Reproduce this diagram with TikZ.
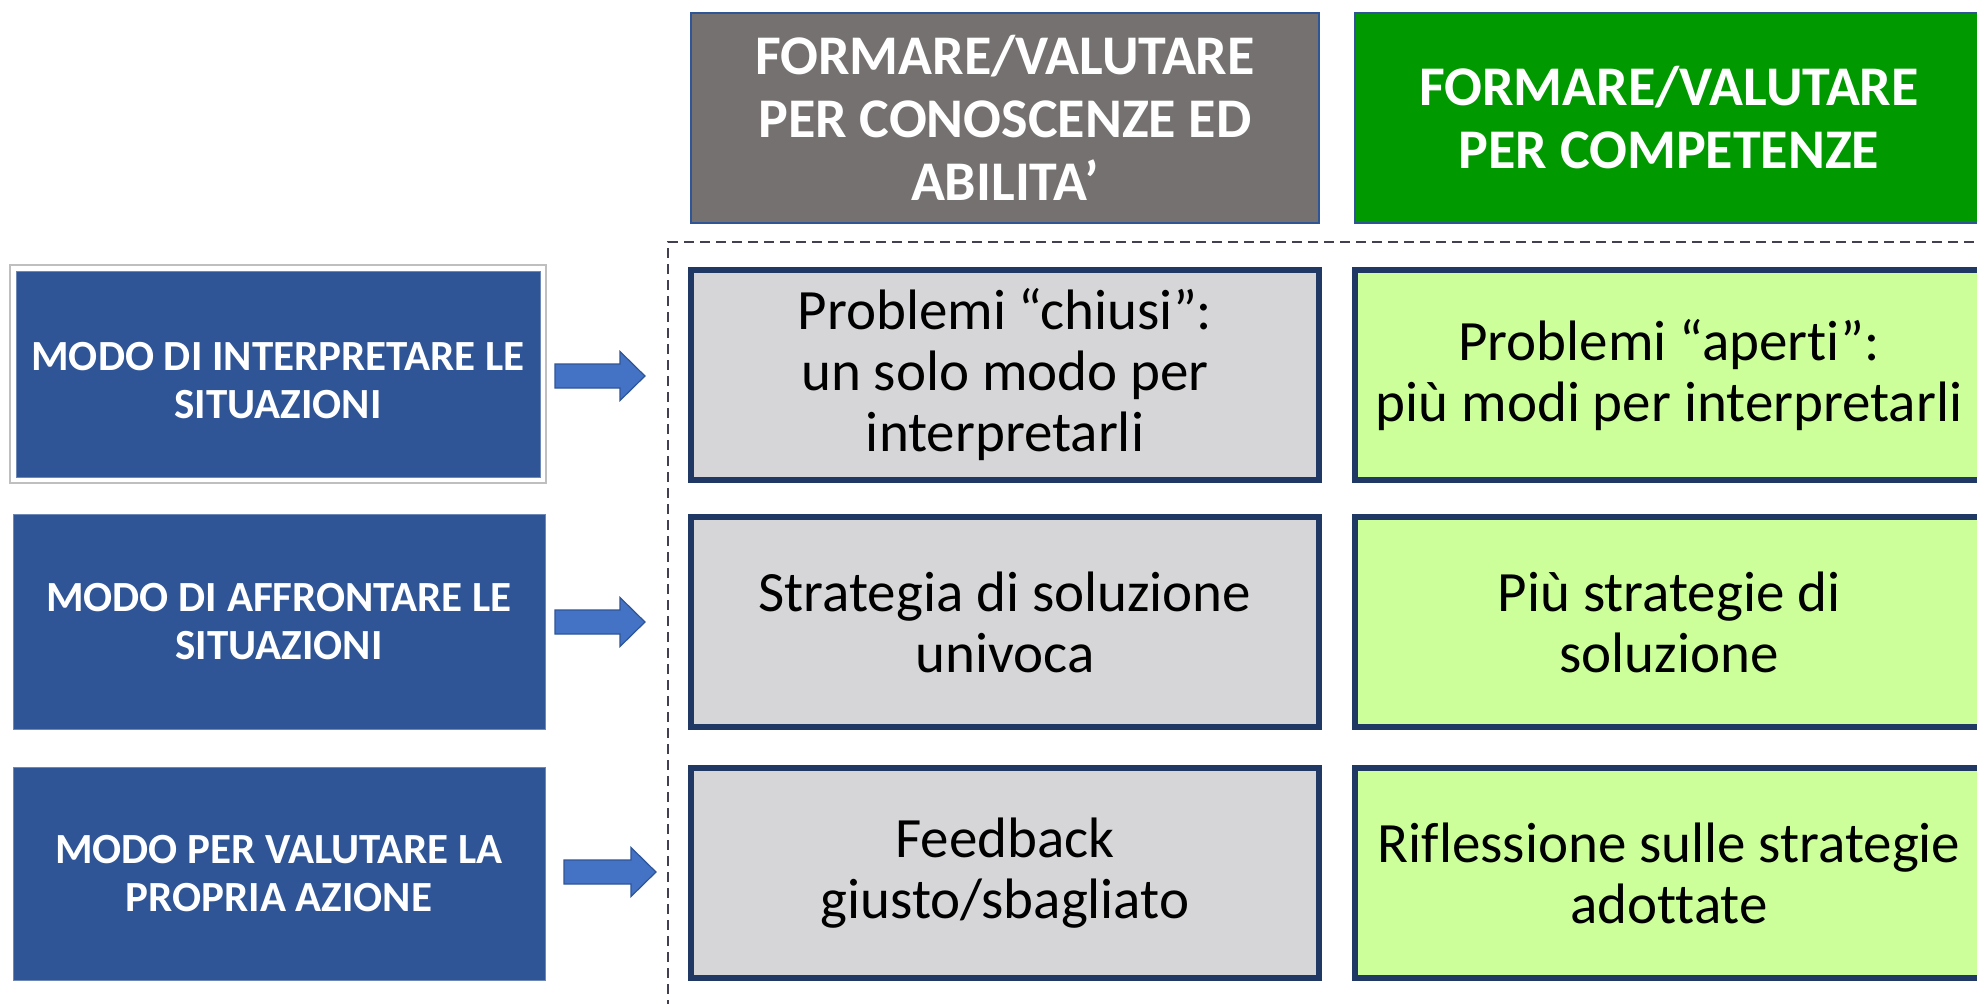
\documentclass[tikz,border=0pt]{standalone}
\usepackage{fontspec}
\setmainfont[RawFeature={-liga}]{Carlito}
\definecolor{hdrgray}{HTML}{767171}
\definecolor{hdrgreen}{HTML}{009A00}
\definecolor{hdrline}{HTML}{2F5597}
\definecolor{cellgray}{HTML}{D6D6D8}
\definecolor{cellgreen}{HTML}{CCFF99}
\definecolor{cellline}{HTML}{1F3864}
\definecolor{leftblue}{HTML}{2F5597}
\definecolor{arrowblue}{HTML}{4472C4}
\definecolor{dashcol}{HTML}{404050}
\begin{document}
\begin{tikzpicture}[x=0.5pt,y=-0.5pt,
  hdrbox/.style={draw=hdrline, line width=0.8pt, text=white, align=center, inner sep=0pt,
    minimum width=314pt, minimum height=105pt,
    font=\bfseries\fontsize{28}{31.5}\selectfont},
  cellbox/.style={draw=cellline, line width=3pt, text=black, align=center, inner sep=0pt,
    minimum width=314pt, minimum height=105pt,
    font=\fontsize{28.5}{30.5}\selectfont},
  leftbox/.style={fill=leftblue, draw=leftblue!70!white, line width=0.5pt, text=white, align=center, inner sep=0pt,
    font=\bfseries\fontsize{21.5}{24}\selectfont},
  blockarrow/.style={fill=arrowblue, draw=leftblue, line width=0.6pt},
  dashline/.style={draw=dashcol, line width=1pt, dash pattern=on 5pt off 3pt}
]
\useasboundingbox (0,0) rectangle (1977,1003);
\fill[white] (0,0) rectangle (1977,1003);

% headers
\node[hdrbox, fill=hdrgray] (h1) at (1005,118) {FORMARE/VALUTARE\\PER CONOSCENZE ED\\ABILITA’};
\node[hdrbox, fill=hdrgreen] (h2) at (1669,118) {FORMARE/VALUTARE\\PER COMPETENZE};

% dashed frame
\coordinate (dbot) at (668,1010);
\coordinate (dcorner) at (668,242);
\coordinate (dright) at (1990,242);
\draw[dashline] (dbot) -- (dcorner) -- (dright);

% left boxes
\node[draw=black!25, line width=0.6pt, fill=white, minimum width=268pt, minimum height=109pt, inner sep=0pt] (f1) at (278,374) {};
\node[leftbox, minimum width=262pt, minimum height=103pt] (l1) at (278,374) {};
\node[text=white, align=center, inner sep=0pt, font=\bfseries\fontsize{21.5}{24}\selectfont] (l1t) at (278,381) {MODO DI INTERPRETARE LE\\SITUAZIONI};
\node[leftbox, minimum width=266pt, minimum height=107.5pt] (l2) at (279,621.5) {MODO DI AFFRONTARE LE\\SITUAZIONI};
\node[leftbox, minimum width=266pt, minimum height=106.5pt] (l3) at (279,873.5) {MODO PER VALUTARE LA\\PROPRIA AZIONE};

% gray cells
\node[cellbox, fill=cellgray] (g1) at (1005,375) {Problemi “chiusi”:\\un solo modo per\\interpretarli};
\node[cellbox, fill=cellgray] (g2) at (1005,622) {Strategia di soluzione\\univoca};
\node[cellbox, fill=cellgray] (g3) at (1005,873) {Feedback\\giusto/sbagliato};

% green cells
\node[cellbox, fill=cellgreen] (c1) at (1669,375) {Problemi “aperti”:\\più modi per interpretarli};
\node[cellbox, fill=cellgreen] (c2) at (1669,622) {Più strategie di\\soluzione};
\node[cellbox, fill=cellgreen] (c3) at (1669,873) {Riflessione sulle strategie\\adottate};

% block arrows
\draw[blockarrow] (555,364) -- (620,364) -- (620,351.5) -- (645,376) -- (620,400.5) -- (620,388) -- (555,388) -- cycle;
\draw[blockarrow] (555,610) -- (620,610) -- (620,597.5) -- (645,622) -- (620,646.5) -- (620,634) -- (555,634) -- cycle;
\draw[blockarrow] (564,860) -- (631,860) -- (631,847.5) -- (656,872) -- (631,896.5) -- (631,884) -- (564,884) -- cycle;
\end{tikzpicture}
\end{document}
